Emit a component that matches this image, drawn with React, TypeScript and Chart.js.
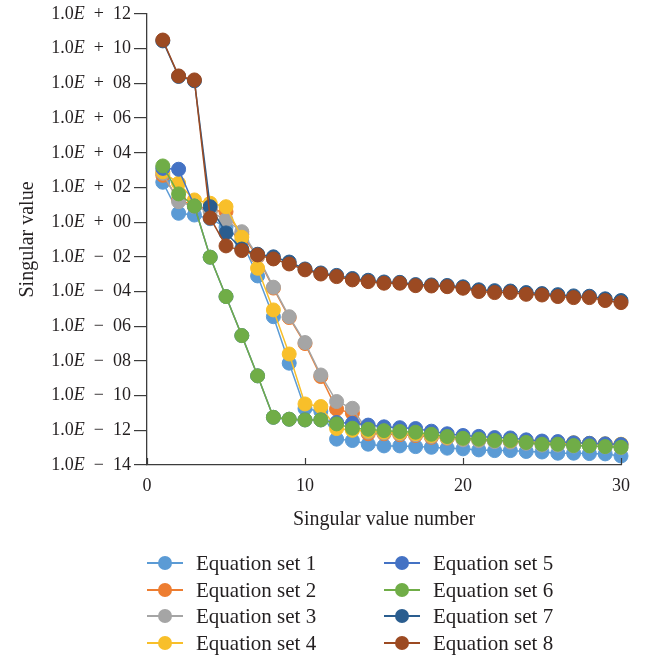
import React, { useEffect, useRef } from "react";
import { Chart, registerables } from "chart.js";

Chart.register(...registerables);

// ---- data (log10 of the singular values) ----
const singularNumbers = [1, 2, 3, 4, 5, 6, 7, 8, 9, 10, 11, 12, 13, 14, 15, 16, 17, 18, 19, 20, 21, 22, 23, 24, 25, 26, 27, 28, 29, 30];

const set1Log = [2.3, 0.51, 0.41, 0.2, -0.3, -1.1, -3.1, -5.45, -8.13, -10.75, -10.9, -12.51, -12.59, -12.8, -12.9, -12.9, -12.94, -12.98, -13.03, -13.07, -13.13, -13.17, -13.17, -13.22, -13.25, -13.32, -13.32, -13.34, -13.36, -13.48];
const set2Log = [2.7, 1.3, 0.95, 0.7, 0.6, -0.7, -2.0, -3.8, -5.5, -7.0, -8.9, -10.78, -11.01, -12.2, -12.2, -12.25, -12.3, -12.4, -12.45, -12.5, -12.55, -12.6, -12.65, -12.68, -12.72, -12.75, -12.75, -12.78, -12.8, -12.82];
const set3Log = [2.82, 1.18, 0.9, 0.6, 0.13, -0.55, -1.95, -3.75, -5.45, -6.94, -8.81, -10.34, -10.73, -12.1, -12.15, -12.2, -12.25, -12.35, -12.45, -12.55, -12.6, -12.65, -12.68, -12.75, -12.85, -12.85, -12.9, -12.9, -12.95, -13.0];
const set4Log = [2.9, 2.24, 1.28, 1.09, 0.89, -0.87, -2.66, -5.06, -7.6, -10.48, -10.63, -11.9, -12.0, -12.05, -12.1, -12.15, -12.2, -12.3, -12.4, -12.45, -12.5, -12.55, -12.6, -12.65, -12.7, -12.72, -12.72, -12.75, -12.78, -12.8];
const set5Log = [3.1, 3.05, 0.93, -2.02, -4.29, -6.54, -8.86, -11.25, -11.36, -11.4, -11.4, -11.55, -11.6, -11.7, -11.8, -11.85, -11.9, -12.05, -12.2, -12.3, -12.35, -12.42, -12.44, -12.55, -12.62, -12.65, -12.72, -12.75, -12.78, -12.82];
const set6Log = [3.24, 1.63, 0.93, -2.02, -4.29, -6.54, -8.86, -11.25, -11.36, -11.4, -11.4, -11.63, -11.88, -11.94, -12.02, -12.07, -12.11, -12.23, -12.36, -12.46, -12.51, -12.59, -12.59, -12.7, -12.8, -12.8, -12.88, -12.9, -12.94, -12.98];
const set7Log = [10.45, 8.4, 8.15, 0.89, -0.62, -1.55, -1.85, -2.0, -2.3, -2.7, -2.93, -3.07, -3.25, -3.35, -3.45, -3.47, -3.6, -3.62, -3.65, -3.73, -3.9, -3.95, -3.97, -4.06, -4.12, -4.18, -4.25, -4.27, -4.42, -4.52];
const set8Log = [10.5, 8.43, 8.2, 0.24, -1.37, -1.64, -1.89, -2.12, -2.41, -2.75, -2.99, -3.14, -3.33, -3.43, -3.52, -3.52, -3.66, -3.68, -3.72, -3.81, -4.0, -4.06, -4.06, -4.16, -4.2, -4.29, -4.35, -4.35, -4.52, -4.64];

const seriesNames = ["Equation set 1", "Equation set 2", "Equation set 3", "Equation set 4", "Equation set 5", "Equation set 6", "Equation set 7", "Equation set 8"];
const seriesColors = ["#5B9BD5", "#ED7D31", "#A5A5A5", "#F8BF2A", "#4472C4", "#70AD47", "#2A5D8F", "#9C4A22"];
const seriesLogs = [set1Log, set2Log, set3Log, set4Log, set5Log, set6Log, set7Log, set8Log];

const yTickExponents = [-14, -12, -10, -8, -6, -4, -2, 0, 2, 4, 6, 8, 10, 12];
const xTickValues = [0, 10, 20, 30];

const FONT = "'Liberation Serif', 'Times New Roman', serif";
const AXIS_COLOR = "#3c3c3c";
const TEXT_COLOR = "#231f20";
const TICK_FONT_SIZE = 18;

function expParts(v: number): [string, string, string] {
  const e = Math.round(Math.log10(v));
  const sign = e >= 0 ? "+" : "\u2212";
  const mag = String(Math.abs(e)).padStart(2, "0");
  return ["1.0", "E", "\u2002" + sign + "\u2002" + mag];
}

const axisDecor = {
  id: "axisDecor",
  afterDraw(chart: any) {
    const xs = chart.scales.x;
    const ys = chart.scales.y;
    const ctx = chart.ctx;
    ctx.save();
    // inward ticks on the x axis
    ctx.strokeStyle = AXIS_COLOR;
    ctx.lineWidth = 1.2;
    xTickValues.forEach((v) => {
      const px = Math.round(xs.getPixelForValue(v)) + 0.5;
      ctx.beginPath();
      ctx.moveTo(px, xs.top);
      ctx.lineTo(px, xs.top - 7);
      ctx.stroke();
    });
    // y tick labels with an italic E
    const regular = `${TICK_FONT_SIZE}px ${FONT}`;
    const italic = `italic ${TICK_FONT_SIZE}px ${FONT}`;
    ctx.fillStyle = TEXT_COLOR;
    ctx.textBaseline = "middle";
    ctx.textAlign = "left";
    const rightEdge = ys.right - 13 - 3;
    ys.ticks.forEach((t: any) => {
      const py = ys.getPixelForValue(t.value);
      const parts = expParts(t.value);
      ctx.font = regular;
      const w0 = ctx.measureText(parts[0]).width;
      const w2 = ctx.measureText(parts[2]).width;
      ctx.font = italic;
      const w1 = ctx.measureText(parts[1]).width;
      let x = rightEdge - (w0 + w1 + w2);
      ctx.font = regular;
      ctx.fillText(parts[0], x, py);
      x += w0;
      ctx.font = italic;
      ctx.fillText(parts[1], x, py);
      x += w1;
      ctx.font = regular;
      ctx.fillText(parts[2], x, py);
    });
    ctx.restore();
  },
};

export default function App() {
  const canvasRef = useRef<HTMLCanvasElement | null>(null);

  useEffect(() => {
    if (!canvasRef.current) return;
    const datasets = seriesLogs.map((logs, i) => ({
      label: seriesNames[i],
      data: logs.map((e, j) => ({ x: singularNumbers[j], y: Math.pow(10, e) })),
      borderColor: seriesColors[i],
      backgroundColor: seriesColors[i],
      pointBackgroundColor: seriesColors[i],
      pointBorderColor: seriesColors[i],
      borderWidth: 1.5,
      pointRadius: 7,
      pointBorderWidth: 1,
      pointHoverRadius: 7,
      showLine: true,
      clip: false as any,
      order: seriesNames.length - i,
    }));

    const chart = new Chart(canvasRef.current, {
      type: "scatter",
      data: { datasets },
      plugins: [axisDecor],
      options: {
        animation: false,
        responsive: false,
        maintainAspectRatio: false,
        events: [],
        layout: { padding: { left: 0, top: 14, right: 25, bottom: 120 } },
        plugins: {
          legend: { display: false },
          tooltip: { enabled: false },
        },
        scales: {
          x: {
            type: "linear",
            min: 0,
            max: 30,
            afterBuildTicks: (scale: any) => {
              scale.ticks = xTickValues.map((v) => ({ value: v }));
            },
            afterFit: (scale: any) => {
              scale.height = 71;
            },
            grid: { display: false, drawTicks: false },
            border: { display: true, color: AXIS_COLOR, width: 1.3 },
            ticks: {
              padding: 10,
              color: TEXT_COLOR,
              font: { family: FONT, size: TICK_FONT_SIZE },
              maxRotation: 0,
            },
            title: {
              display: true,
              text: "Singular value number",
              color: TEXT_COLOR,
              font: { family: FONT, size: 20 },
              padding: { top: 0, bottom: 4 },
            },
          },
          y: {
            type: "logarithmic",
            min: 1e-14,
            max: 1e12,
            afterBuildTicks: (scale: any) => {
              scale.ticks = yTickExponents.map((e) => ({ value: Math.pow(10, e) }));
            },
            afterFit: (scale: any) => {
              scale.width = 147;
            },
            grid: {
              display: true,
              drawOnChartArea: false,
              drawTicks: true,
              tickLength: 13,
              color: AXIS_COLOR,
              lineWidth: 1.2,
            },
            border: { display: true, color: AXIS_COLOR, width: 1.3 },
            ticks: {
              padding: 3,
              color: "rgba(0,0,0,0)",
              font: { family: FONT, size: TICK_FONT_SIZE },
              callback: (v: any) => expParts(Number(v)).join(""),
            },
            title: {
              display: true,
              text: "Singular value",
              color: TEXT_COLOR,
              font: { family: FONT, size: 20 },
              padding: { top: 16, bottom: 0 },
            },
          },
        },
      },
    });
    return () => chart.destroy();
  }, []);

  const legendCols = [
    { lineX: 147, textX: 196 },
    { lineX: 384, textX: 433 },
  ];
  const legendRowsY = [563, 590, 616, 643];

  return (
    <div style={{ position: "absolute", left: 0, top: 0, width: 646, height: 656, background: "#fff" }}>
      <canvas ref={canvasRef} width={646} height={656} style={{ display: "block", width: 646, height: 656 }} />
      {seriesNames.map((name, i) => {
        const col = legendCols[Math.floor(i / 4)];
        const cy = legendRowsY[i % 4];
        return (
          <div key={name}>
            <div
              style={{
                position: "absolute",
                left: col.lineX,
                top: cy - 1,
                width: 36,
                height: 2,
                background: seriesColors[i],
              }}
            />
            <div
              style={{
                position: "absolute",
                left: col.lineX + 18 - 7,
                top: cy - 7,
                width: 14,
                height: 14,
                borderRadius: 7,
                background: seriesColors[i],
              }}
            />
            <div
              style={{
                position: "absolute",
                left: col.textX,
                top: cy - 13,
                height: 26,
                lineHeight: "26px",
                fontFamily: FONT,
                fontSize: 21,
                color: TEXT_COLOR,
                whiteSpace: "nowrap",
              }}
            >
              {name}
            </div>
          </div>
        );
      })}
    </div>
  );
}
